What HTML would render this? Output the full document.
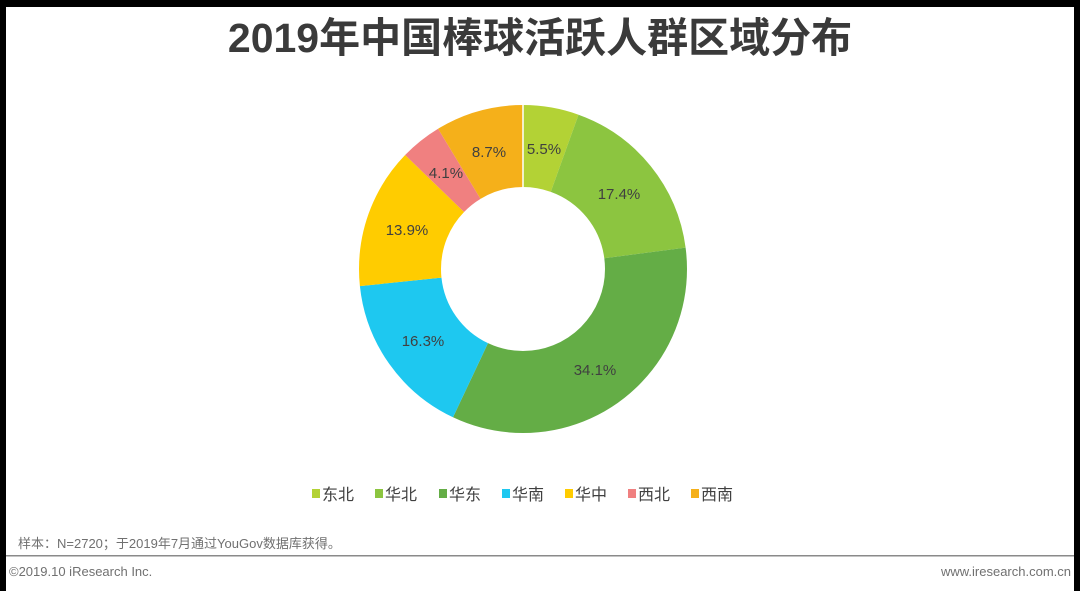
<!DOCTYPE html>
<html><head><meta charset="utf-8"><style>
body{margin:0;width:1080px;height:591px;background:#fff;position:relative;overflow:hidden;font-family:"Liberation Sans","Noto Sans CJK SC",sans-serif;}
.bt{position:absolute;background:#000}
.t{position:absolute;white-space:nowrap}
</style></head><body>
<div class="bt" style="left:0;top:0;width:1080px;height:7px"></div>
<div class="bt" style="left:0;top:0;width:6px;height:591px"></div>
<div class="bt" style="left:1074px;top:0;width:6px;height:591px"></div>
<div class="t" style="left:0;width:1080px;text-align:center;top:13px;font-size:41px;font-weight:bold;color:#3a3a3a;line-height:50px">2019年中国棒球活跃人群区域分布</div>
<svg width="1080" height="591" style="position:absolute;left:0;top:0" font-family="Liberation Sans, Noto Sans CJK SC, sans-serif">
<g transform="rotate(-90 523 269)" fill="none" stroke-width="82">
<circle cx="523" cy="269" r="123" stroke="#b3d235" stroke-dasharray="42.51 772.83" stroke-dashoffset="0"/>
<circle cx="523" cy="269" r="123" stroke="#8cc540" stroke-dasharray="134.47 772.83" stroke-dashoffset="-42.51"/>
<circle cx="523" cy="269" r="123" stroke="#64ad46" stroke-dasharray="263.53 772.83" stroke-dashoffset="-176.98"/>
<circle cx="523" cy="269" r="123" stroke="#1ec8f0" stroke-dasharray="125.97 772.83" stroke-dashoffset="-440.51"/>
<circle cx="523" cy="269" r="123" stroke="#ffcc00" stroke-dasharray="107.42 772.83" stroke-dashoffset="-566.48"/>
<circle cx="523" cy="269" r="123" stroke="#f08080" stroke-dasharray="31.69 772.83" stroke-dashoffset="-673.90"/>
<circle cx="523" cy="269" r="123" stroke="#f5b01a" stroke-dasharray="67.24 772.83" stroke-dashoffset="-705.59"/>
</g>
<g stroke="#fff" stroke-width="1.5">
<line x1="523" y1="269" x2="523" y2="104"/>
</g>
<g font-size="15" fill="#404040" text-anchor="middle">
<text x="544" y="154">5.5%</text>
<text x="619" y="199">17.4%</text>
<text x="595" y="375">34.1%</text>
<text x="423" y="346">16.3%</text>
<text x="407" y="235">13.9%</text>
<text x="446" y="178">4.1%</text>
<text x="489" y="157">8.7%</text>
</g>
<g font-size="16" fill="#404040">
<rect x="312" y="489" width="8" height="9" fill="#b3d235"/><text x="322" y="500">东北</text>
<rect x="375" y="489" width="8" height="9" fill="#8cc540"/><text x="385" y="500">华北</text>
<rect x="439" y="489" width="8" height="9" fill="#64ad46"/><text x="449" y="500">华东</text>
<rect x="502" y="489" width="8" height="9" fill="#1ec8f0"/><text x="512" y="500">华南</text>
<rect x="565" y="489" width="8" height="9" fill="#ffcc00"/><text x="575" y="500">华中</text>
<rect x="628" y="489" width="8" height="9" fill="#f08080"/><text x="638" y="500">西北</text>
<rect x="691" y="489" width="8" height="9" fill="#f5b01a"/><text x="701" y="500">西南</text>
</g>
<text x="18" y="548" font-size="13" fill="#707070">样本：N=2720；于2019年7月通过YouGov数据库获得。</text>
<rect x="6" y="555" width="1068" height="1.5" fill="#8a8a8a"/>
<text x="9" y="576" font-size="13" fill="#707070">©2019.10 iResearch Inc.</text>
<text x="1071" y="576" font-size="13" fill="#707070" text-anchor="end">www.iresearch.com.cn</text>
</svg>
</body></html>
